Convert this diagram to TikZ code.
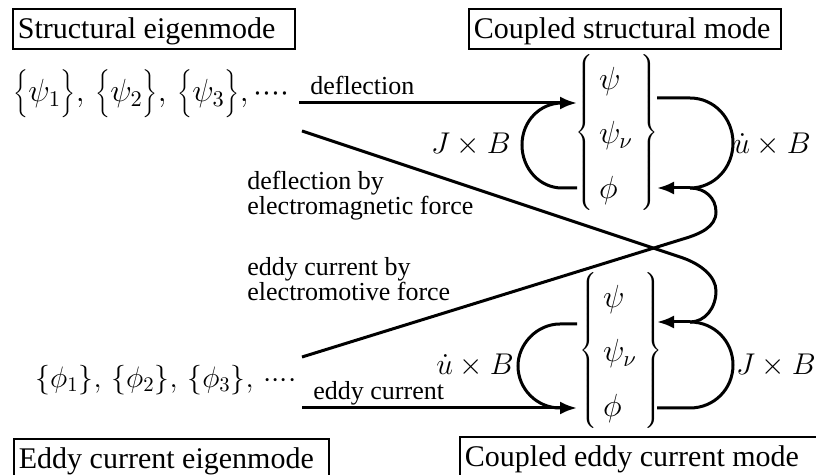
\RequirePackage{fix-cm}
\documentclass[tikz,border=0pt]{standalone}
\usepackage{fontspec}
\setmainfont{Liberation Serif}
\usetikzlibrary{arrows.meta}
\newcommand{\tallbr}[1]{\mathord{\left\{\vrule height 12pt depth 8pt width 0pt #1\right\}}}
\newcommand{\grpcontent}{$\renewcommand{\arraystretch}{1.42}\left\{\begin{array}{@{\hspace{3pt}}l@{\hspace{4pt}}}\psi\\ \psi_{\nu}\\ \phi\end{array}\right\}$}
\begin{document}
\begin{tikzpicture}[x=0.5pt,y=-0.5pt,
  conn/.style={line width=1.5pt},
  arr/.style={conn,-{Latex[length=8.5pt,width=6.5pt]}},
  titlebox/.style={draw,line width=0.9pt,anchor=north west,inner xsep=2.5pt,inner ysep=0pt,
    minimum height=20pt,font=\fontsize{15}{18}\selectfont,text height=10pt,text depth=0pt},
  lbl/.style={font=\fontsize{13}{12.5}\selectfont,inner sep=0pt,align=left},
  mlbl/.style={font=\fontsize{15}{18}\selectfont,inner sep=0pt},
  grp/.style={font=\fontsize{16}{19.2}\selectfont,inner sep=0pt},
  row/.style={inner sep=0pt,anchor=west}
]
\useasboundingbox (0,0) rectangle (816,475);

% titles
\node[titlebox] (t1) at (12,8) {\makebox[136pt][l]{Structural eigenmode}};
\node[titlebox] (t2) at (468,8) {\makebox[151pt][l]{Coupled structural mode}};
\node[titlebox] (t3) at (13,438) {\makebox[152.5pt][l]{Eddy current eigenmode}};
\node[titlebox] (t4) at (459,436) {\makebox[190pt][l]{Coupled eddy current mode}};

% eigenmode rows
\node[row,font=\fontsize{16}{19.2}\selectfont] (srow) at (13,94)
  {$\tallbr{\psi_1},\,\tallbr{\psi_2},\,\tallbr{\psi_3},{\cdot}{\cdot}{\cdot}{\cdot}$};
\node[row,font=\fontsize{14.8}{18}\selectfont] (erow) at (35,380)
  {$\{\phi_1\},\,\{\phi_2\},\,\{\phi_3\},\,{\cdot}{\cdot}{\cdot}{\cdot}$};

% coupled groups
\node[grp] (gs) at (617,133) {\grpcontent};
\node[grp] (ge) at (621,351) {\grpcontent};

% labels
\node[lbl,anchor=base west] (ldefl) at (310,95) {deflection};
\node[lbl,anchor=base west] (leddy) at (313,400) {eddy current};
\node[lbl,anchor=north west] (ldem) at (247,171) {deflection by\\electromagnetic force};
\node[lbl,anchor=north west] (lemf) at (247,257) {eddy current by\\electromotive force};
\node[mlbl] (jbs) at (471,145) {$J\times B$};
\node[mlbl] (ubs) at (772,145) {$\dot u\times B$};
\node[mlbl] (ube) at (475,366) {$\dot u\times B$};
\node[mlbl] (jbe) at (776,366) {$J\times B$};

% connector end points
\coordinate (sA) at (299,103);
\coordinate (sB) at (302,131);
\coordinate (eA) at (302,357);
\coordinate (eB) at (302,408);
\coordinate (gsPsiL) at (577,103);
\coordinate (gsPhiL) at (577,188);
\coordinate (gsPsiR) at (657,98);
\coordinate (gsPhiR) at (657,188);
\coordinate (gePsiL) at (577,324);
\coordinate (gePhiL) at (577,408);
\coordinate (gePsiR) at (657,322);
\coordinate (gePhiR) at (657,408);
\coordinate (jT) at (690,188);
\coordinate (jB) at (690,322);

% deflection
\draw[arr] (sA) -- (gsPsiL);
% J x B loop (structural)
\draw[conn] (gsPhiL) -- (562,188) .. controls (540,188) and (522,169) .. (522,145)
  .. controls (522,121) and (540,103) .. (562,103);
% u x B loop (structural)
\draw[conn] (gsPsiR) -- (690,98) .. controls (714,98) and (733,118) .. (733,143)
  .. controls (733,168) and (714,188) .. (jT);
\draw[arr] (jT) -- (gsPhiR);
% eddy current by electromotive force
\draw[conn] (eA) -- (683,239) .. controls (700,234) and (716,227) .. (716,212)
  .. controls (716,198) and (705,188) .. (jT);
% deflection by electromagnetic force
\draw[conn] (sB) -- (683,258) .. controls (700,264) and (716,276) .. (716,291)
  .. controls (716,308) and (705,322) .. (jB);
% J x B loop (eddy)
\draw[conn] (gePhiR) -- (690,408) .. controls (714,408) and (733,389) .. (733,365)
  .. controls (733,341) and (714,322) .. (jB);
\draw[arr] (jB) -- (gePsiR);
% u x B loop (eddy)
\draw[conn] (gePsiL) -- (560,324) .. controls (537,324) and (518,344) .. (518,366)
  .. controls (518,389) and (537,408) .. (560,408);
% eddy current
\draw[arr] (eB) -- (gePhiL);
\end{tikzpicture}
\end{document}
